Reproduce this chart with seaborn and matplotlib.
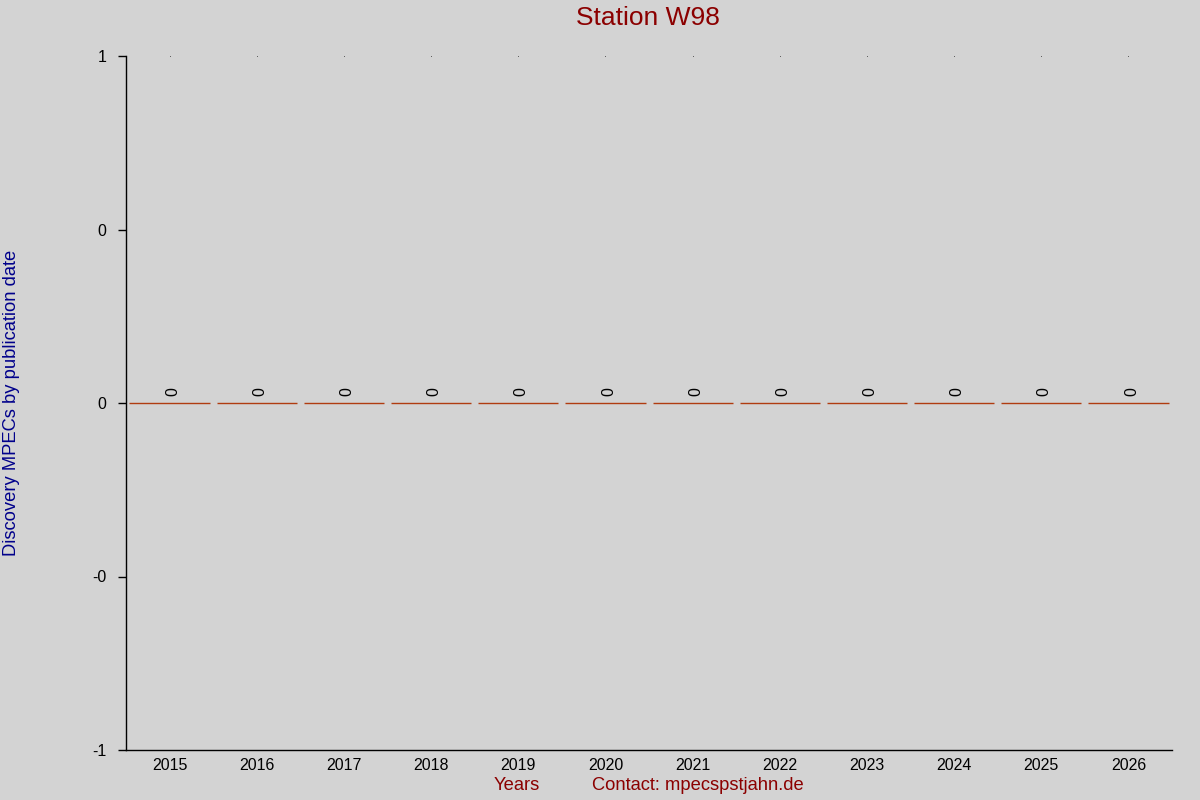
import matplotlib
matplotlib.use("Agg")
import matplotlib.pyplot as plt
import seaborn as sns
import pandas as pd

years = ["2015", "2016", "2017", "2018", "2019", "2020",
         "2021", "2022", "2023", "2024", "2025", "2026"]
discoveries = [0, 0, 0, 0, 0, 0, 0, 0, 0, 0, 0, 0]
top_marks = [1, 1, 1, 1, 1, 1, 1, 1, 1, 1, 1, 1]
ytick_values = [-1, -0.5, 0, 0.5, 1]
ytick_labels = ["-1", "-0", "0", "0", "1"]

sns.set_theme(style="white")
plt.rcParams['font.family'] = ['Liberation Sans', 'DejaVu Sans']

bg = "#d3d3d3"
fig = plt.figure(figsize=(12, 8), dpi=100, facecolor=bg)
ax = fig.add_axes([0.105, 0.0625, 0.8717, 0.8675])
ax.set_facecolor(bg)

df = pd.DataFrame({"year": years, "count": discoveries})
sns.barplot(data=df, x="year", y="count", ax=ax, width=0.92,
            color="#b03c10", edgecolor="#b03c10", linewidth=1.0,
            errorbar=None, saturation=1)
for c in ax.containers:
    anns = ax.bar_label(c, labels=[str(v) for v in discoveries], rotation=90,
                        padding=5, fontsize=11.5, color="black")
    for a in anns:
        a.xyann = (2.2, a.xyann[1])

ax.scatter(range(len(years)), top_marks, s=0.3, color="#333333",
           linewidths=0, zorder=5)

ax.set_xlim(-0.5, len(years) - 0.5)
ax.set_ylim(-1, 1)
ax.set_yticks(ytick_values)
ax.set_yticklabels(ytick_labels)

for s in ["top", "right"]:
    ax.spines[s].set_visible(False)
for s in ["left", "bottom"]:
    ax.spines[s].set_visible(True)
    ax.spines[s].set_color("black")
    ax.spines[s].set_linewidth(1.0)

ax.tick_params(axis="y", which="both", left=True, length=6, width=1,
               color="black", pad=8, labelsize=11.5, labelcolor="black")
ax.tick_params(axis="x", which="both", bottom=False, length=0, pad=6,
               labelsize=11.5, labelcolor="black")
ax.set_xlabel("")
ax.set_ylabel("")

fig.text(0.54, 0.977, "Station W98", ha="center", va="center",
         fontsize=19, color="#8b0000")
fig.text(0.01, 0.496, "Discovery MPECs by publication date", rotation=90,
         ha="center", va="center", fontsize=13.2, color="#00008b")
fig.text(0.431, 0.0175, "Years", ha="center", va="center",
         fontsize=13.2, color="#8b0000")
fig.text(0.5817, 0.0175, "Contact: mpecspstjahn.de", ha="center", va="center",
         fontsize=13.2, color="#8b0000")

fig.savefig("out.png", dpi=100, facecolor=bg)
